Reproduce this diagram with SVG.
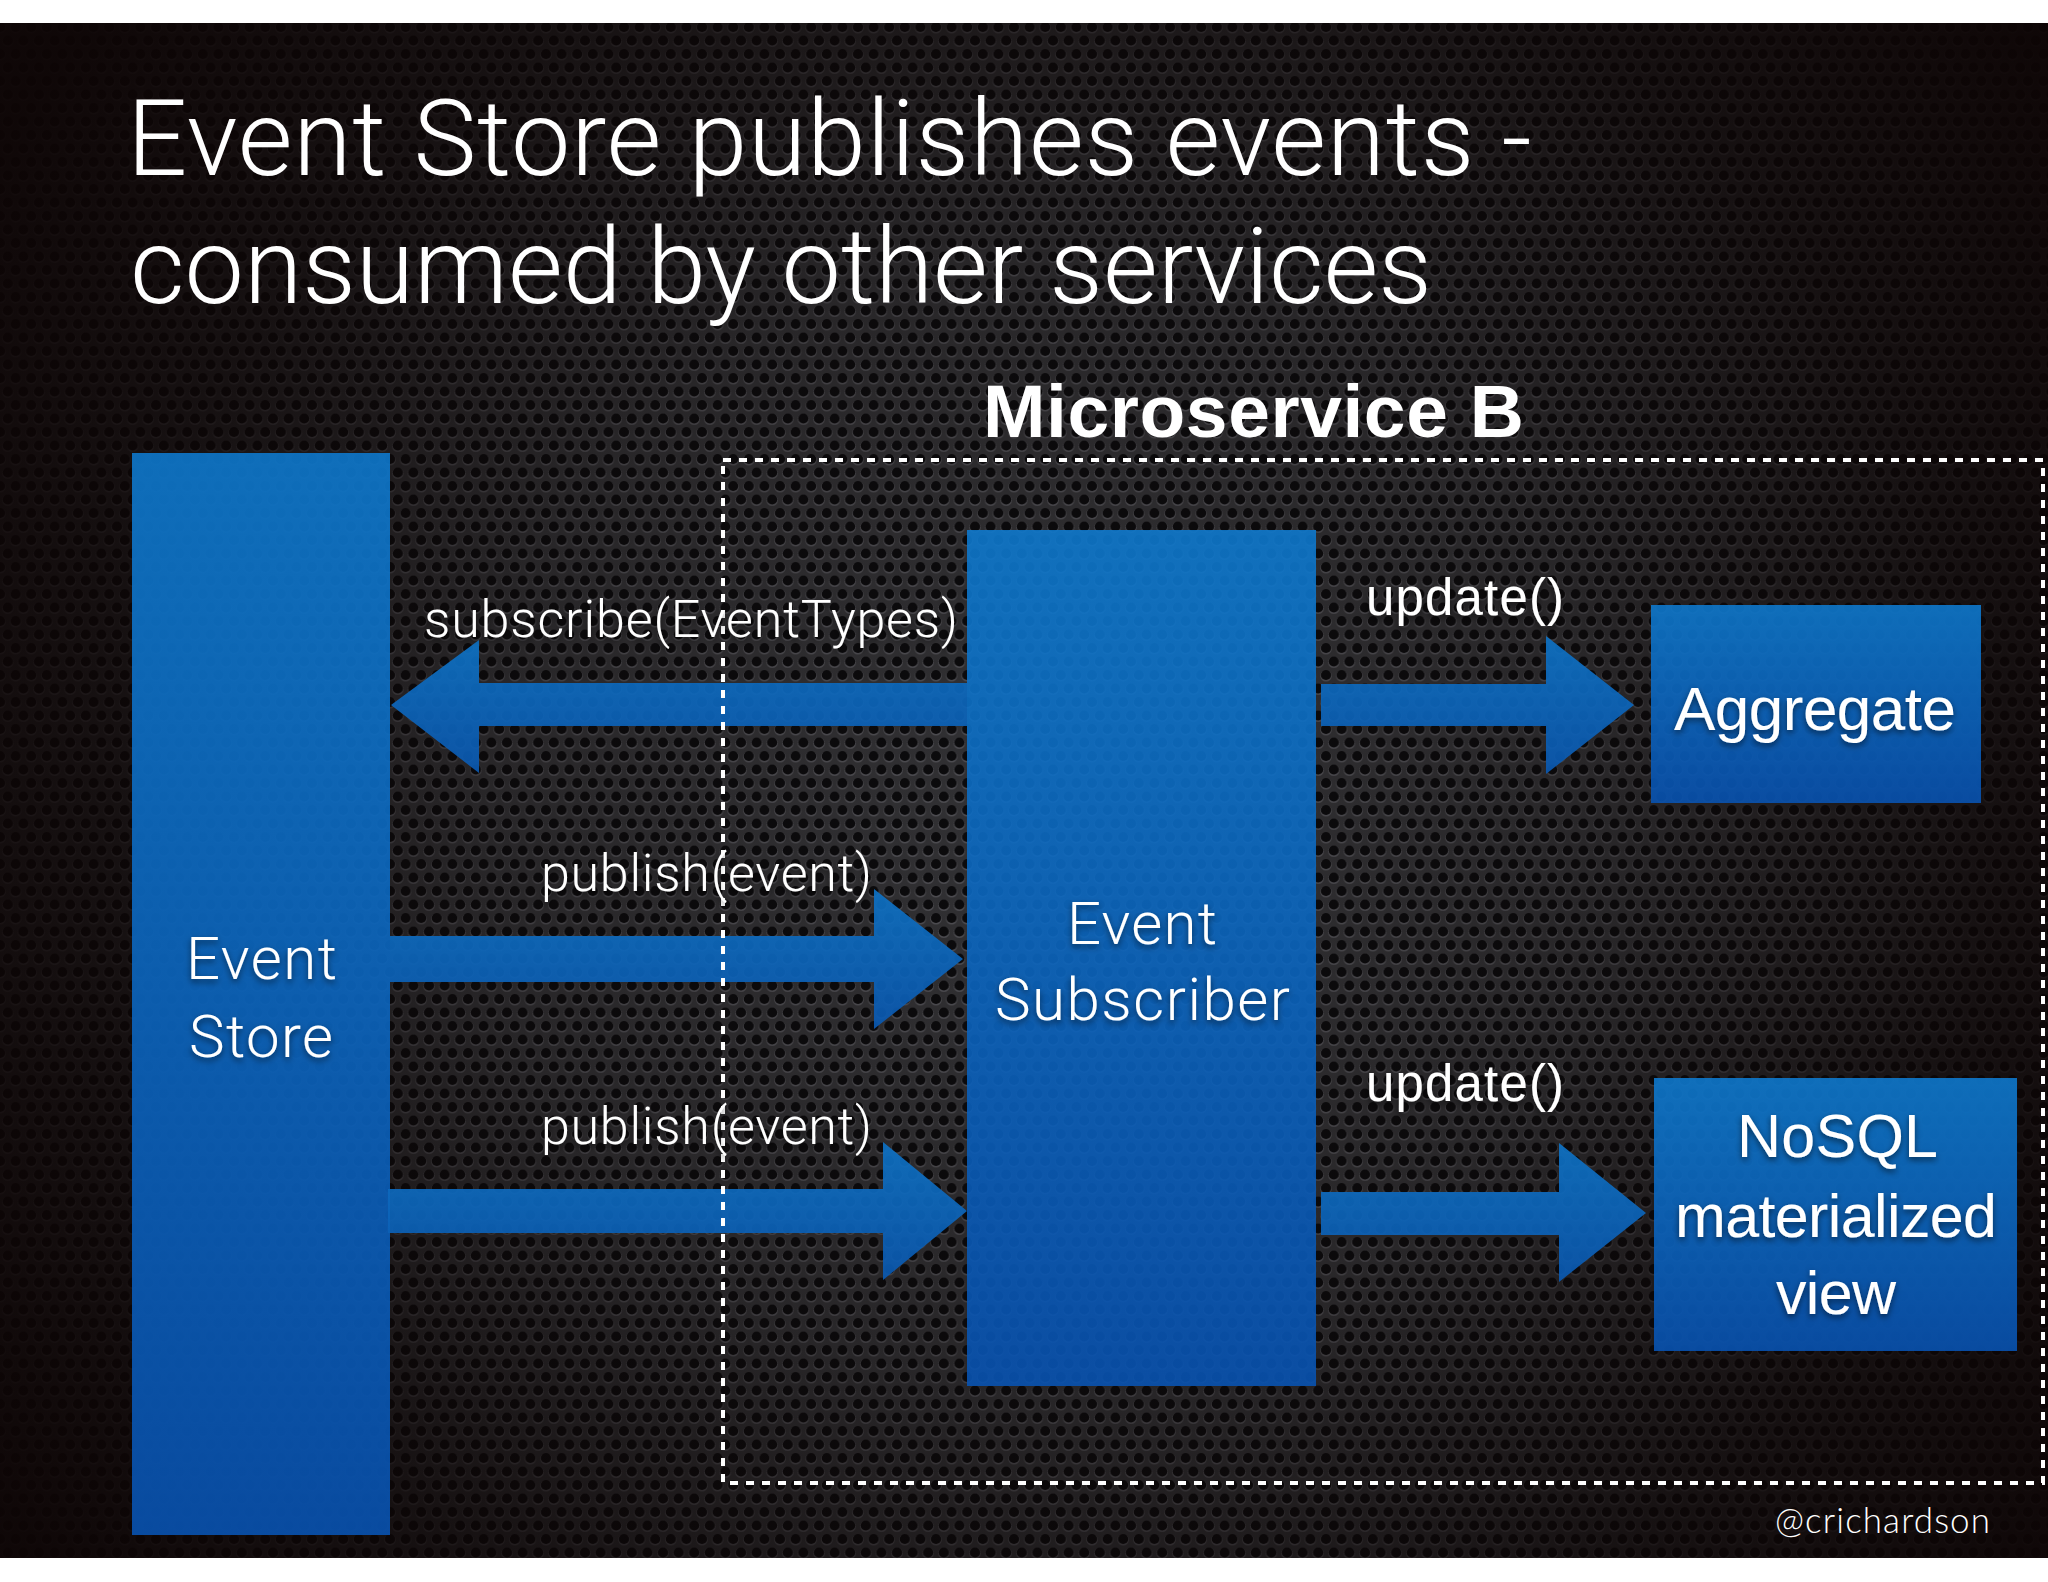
<svg xmlns="http://www.w3.org/2000/svg" width="2048" height="1582" viewBox="0 0 2048 1582">
  <style>
    .light { font-family: Roboto, "Liberation Sans", Arial, sans-serif; font-weight: 300; fill: #ffffff; }
    .reg { font-family: "Liberation Sans", Arial, Helvetica, sans-serif; font-weight: 400; fill: #ffffff; }
    .bold { font-family: "Liberation Sans", Arial, Helvetica, sans-serif; font-weight: 700; fill: #ffffff; }
    .box { fill: url(#blueGrad); fill-opacity: 0.9; }
    .arrow { fill: url(#arrowGrad); fill-opacity: 0.92; }
    .shadowed { filter: url(#textShadow); }
  </style>
  <defs>
    <pattern id="mesh" patternUnits="userSpaceOnUse" width="15.6" height="27">
      <rect width="15.6" height="27" fill="#343437"/>
      <g fill="#535358">
        <circle cx="0" cy="0.9" r="5.7"/>
        <circle cx="15.6" cy="0.9" r="5.7"/>
        <circle cx="7.8" cy="14.4" r="5.7"/>
        <circle cx="0" cy="27.9" r="5.7"/>
        <circle cx="15.6" cy="27.9" r="5.7"/>
      </g>
      <g fill="#0b0b0d">
        <circle cx="0" cy="0" r="5.1"/>
        <circle cx="15.6" cy="0" r="5.1"/>
        <circle cx="7.8" cy="13.5" r="5.1"/>
        <circle cx="0" cy="27" r="5.1"/>
        <circle cx="15.6" cy="27" r="5.1"/>
      </g>
    </pattern>
    <radialGradient id="vignette" gradientUnits="userSpaceOnUse" cx="1050" cy="820" r="1250">
      <stop offset="0" stop-color="#0c0606" stop-opacity="0.05"/>
      <stop offset="0.45" stop-color="#0c0606" stop-opacity="0.3"/>
      <stop offset="0.75" stop-color="#0c0505" stop-opacity="0.75"/>
      <stop offset="1" stop-color="#0d0505" stop-opacity="0.95"/>
    </radialGradient>
    <linearGradient id="blueGrad" x1="0" y1="0" x2="0" y2="1">
      <stop offset="0" stop-color="#0e78cc"/>
      <stop offset="1" stop-color="#0852b0"/>
    </linearGradient>
    <linearGradient id="arrowGrad" x1="0" y1="0" x2="0" y2="1">
      <stop offset="0" stop-color="#0e72c4"/>
      <stop offset="1" stop-color="#0a58b0"/>
    </linearGradient>
    <filter id="textShadow" x="-10%" y="-30%" width="120%" height="160%">
      <feDropShadow dx="0" dy="3" stdDeviation="3" flood-color="#000000" flood-opacity="0.55"/>
    </filter>
  </defs>

  <!-- background -->
  <g id="background">
    <rect x="0" y="0" width="2048" height="1582" fill="#ffffff"/>
    <rect x="0" y="23" width="2048" height="1535" fill="url(#mesh)"/>
    <rect x="0" y="23" width="2048" height="1535" fill="url(#vignette)"/>
  </g>

  <!-- title -->
  <g id="title" class="light">
    <text x="127" y="175" font-size="106" textLength="1405">Event Store publishes events -</text>
    <text x="130" y="303" font-size="106" textLength="1302">consumed by other services</text>
  </g>

  <!-- nodes -->
  <g id="event-store">
    <rect class="box" x="132" y="453" width="258" height="1082"/>
    <g class="light shadowed" font-size="60">
      <text x="186" y="979" textLength="151">Event</text>
      <text x="189" y="1057" textLength="144">Store</text>
    </g>
  </g>

  <g id="event-subscriber">
    <rect class="box" x="967" y="530" width="349" height="856"/>
    <g class="light shadowed" font-size="60">
      <text x="1067" y="944" textLength="150">Event</text>
      <text x="995" y="1020" textLength="295">Subscriber</text>
    </g>
  </g>

  <g id="aggregate">
    <rect class="box" x="1651" y="605" width="330" height="198"/>
    <text class="reg shadowed" x="1674" y="730" font-size="62" textLength="282">Aggregate</text>
  </g>

  <g id="nosql-view">
    <rect class="box" x="1654" y="1078" width="363" height="273"/>
    <g class="reg shadowed" font-size="61">
      <text x="1737" y="1157" textLength="201">NoSQL</text>
      <text x="1675" y="1237" textLength="322">materialized</text>
      <text x="1776" y="1314" textLength="120">view</text>
    </g>
  </g>

  <!-- connectors -->
  <g id="connectors">
    <polygon class="arrow" points="391,705 479,640 479,683 967,683 967,726 479,726 479,773"/>
    <polygon class="arrow" points="390,936 874,936 874,889 963,959 874,1029 874,982 390,982"/>
    <polygon class="arrow" points="388,1189 883,1189 883,1142 967,1211 883,1280 883,1233 388,1233"/>
    <polygon class="arrow" points="1321,684 1546,684 1546,636 1634,705 1546,774 1546,726 1321,726"/>
    <polygon class="arrow" points="1321,1192 1559,1192 1559,1143 1646,1213 1559,1282 1559,1235 1321,1235"/>
  </g>

  <!-- Microservice B boundary -->
  <g id="microservice-b">
    <rect x="723" y="460" width="1320" height="1023" fill="none" stroke="#ffffff" stroke-width="4" stroke-dasharray="8 8"/>
    <text class="bold" x="983" y="437" font-size="75" textLength="541">Microservice B</text>
  </g>

  <!-- connector labels -->
  <g id="connector-labels">
    <text class="light shadowed" x="424" y="637" font-size="52" textLength="534">subscribe(EventTypes)</text>
    <text class="light shadowed" x="541" y="891" font-size="52" textLength="331">publish(event)</text>
    <text class="light shadowed" x="541" y="1144" font-size="52" textLength="331">publish(event)</text>
    <text class="reg shadowed" x="1366" y="615" font-size="51" textLength="198">update()</text>
    <text class="reg shadowed" x="1366" y="1101" font-size="51" textLength="198">update()</text>
  </g>

  <g id="footer">
    <text x="1775" y="1533" font-family="Lato, 'Open Sans', 'Liberation Sans', sans-serif" font-weight="300" font-size="35" fill="#ffffff" textLength="215">@crichardson</text>
  </g>
</svg>
